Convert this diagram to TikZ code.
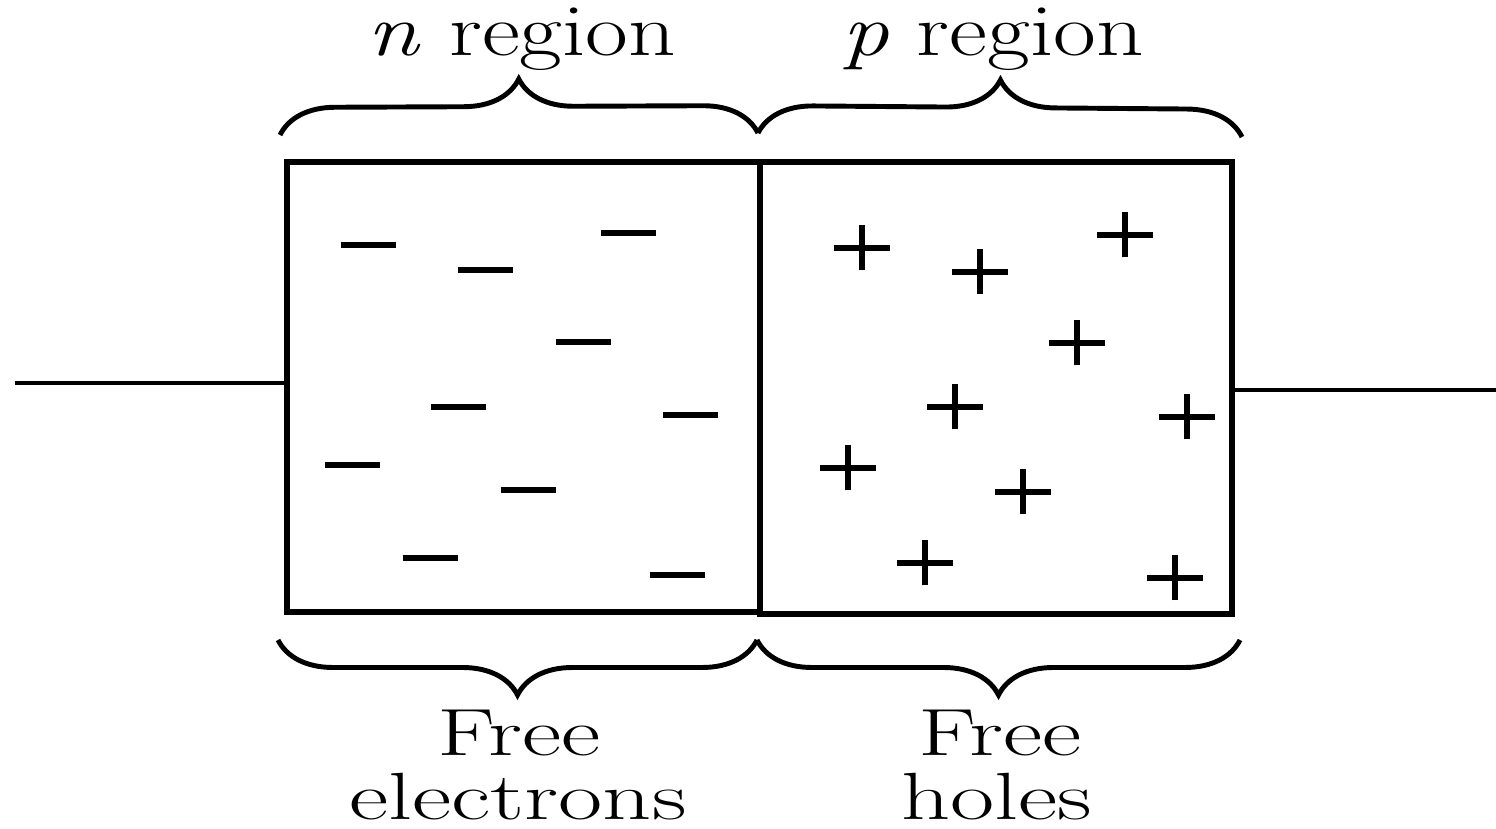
\documentclass[tikz,border=0pt]{standalone}
\usetikzlibrary{decorations.pathreplacing}
\begin{document}
\begin{tikzpicture}[
  box/.style={draw, line width=1.7pt, inner sep=0pt, outer sep=0pt},
  wire/.style={line width=1.4pt},
  brc/.style={line width=1.4pt, decorate, decoration={brace, amplitude=0.55cm}},
  brcm/.style={line width=1.4pt, decorate, decoration={brace, amplitude=0.55cm, mirror}},
  chg/.style={line width=1.5pt},
  elec/.pic={\draw[chg] (-0.275,0) -- (0.275,0);},
  hole/.pic={\draw[chg] (-0.28,0) -- (0.28,0); \draw[chg] (0,-0.225) -- (0,0.225);},
  toplbl/.style={anchor=base, inner sep=0pt, font=\fontsize{21}{25}\selectfont},
  botlbl/.style={anchor=base, inner sep=0pt, font=\fontsize{19}{23}\selectfont}
]
\useasboundingbox (0,0) rectangle (14.96,8.29);

% boxes
\node[box, minimum width=4.73cm, minimum height=4.5cm] (nbox) at (5.235,4.42) {};
\node[box, minimum width=4.72cm, minimum height=4.52cm] (pbox) at (9.96,4.41) {};

% wires
\coordinate (lw) at (0.15,4.46);
\coordinate (rw) at (14.96,4.39);
\draw[wire] (lw) -- (lw -| nbox.west);
\draw[wire] (rw -| pbox.east) -- (rw);

% top braces
\coordinate (tl) at (2.80,6.94);
\coordinate (tm) at (7.58,6.96);
\coordinate (tr) at (12.42,6.92);
\draw[brc] (tl) -- (tm);
\draw[brc] (tm) -- (tr);

% bottom braces
\coordinate (bl) at (2.78,1.89);
\coordinate (bm) at (7.57,1.89);
\coordinate (br) at (12.40,1.89);
\draw[brcm] (bl) -- (bm);
\draw[brcm] (bm) -- (br);

% labels
\node[toplbl] (nlab) at (5.22,7.73) {\scalebox{1.26}[1]{\textit{n} region}};
\node[toplbl] (plab) at (9.93,7.73) {\scalebox{1.26}[1]{\textit{p} region}};
\node[botlbl] (fe1) at (5.19,0.73) {\scalebox{1.44}[1]{Free}};
\node[botlbl] (fe2) at (5.18,0.09) {\scalebox{1.44}[1]{electrons}};
\node[botlbl] (fh1) at (10.00,0.73) {\scalebox{1.44}[1]{Free}};
\node[botlbl] (fh2) at (9.97,0.09) {\scalebox{1.44}[1]{holes}};

% free electrons
\foreach \x/\y in {368/245, 485/270, 628/233, 583/342, 458/407, 690/415, 352/465, 528/490, 430/558, 677/575}
  \pic at ({\x/100},{(829-\y)/100}) {elec};

% free holes
\foreach \x/\y in {862/248, 980/272, 1125/235, 1077/343, 955/407, 1187/417, 848/468, 1023/492, 925/563, 1175/578}
  \pic at ({\x/100},{(829-\y)/100}) {hole};
\end{tikzpicture}
\end{document}
